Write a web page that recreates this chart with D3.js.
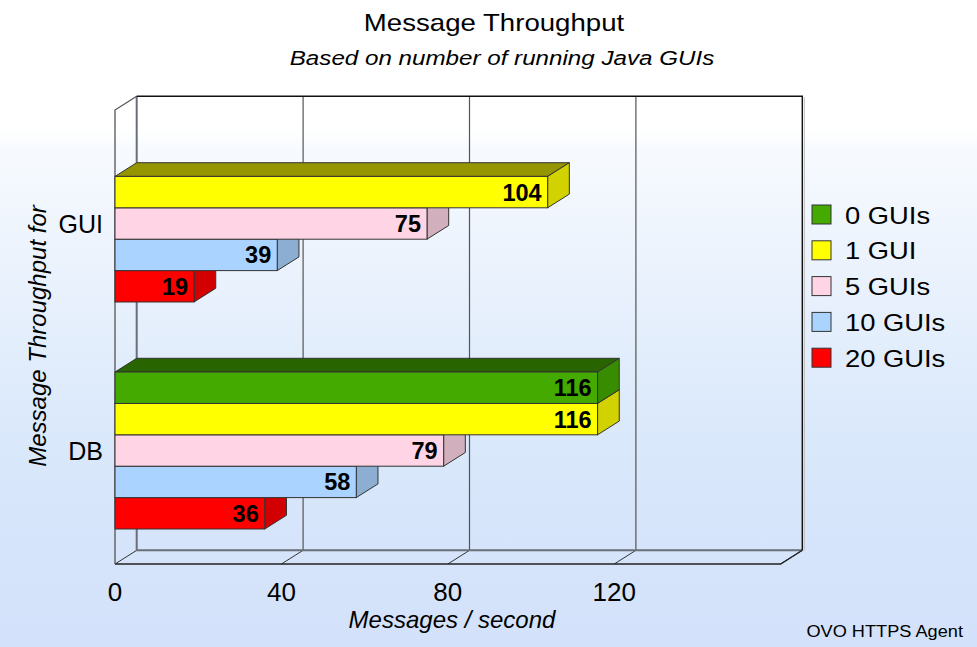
<!DOCTYPE html>
<html>
<head>
<meta charset="utf-8">
<script src="https://cdn.jsdelivr.net/npm/d3@7"></script>
<style>
  html, body { margin: 0; padding: 0; background: #fff; }
  svg { display: block; font-family: "Liberation Sans", Arial, sans-serif; }
</style>
</head>
<body>
<svg id="chart" width="977" height="647"></svg>
<script>
// ---- data ----
const categories = ["GUI", "DB"];
const seriesNames = ["0 GUIs", "1 GUI", "5 GUIs", "10 GUIs", "20 GUIs"];
const guiValues = [0, 104, 75, 39, 19];
const dbValues = [116, 116, 79, 58, 36];
const xTicks = [0, 40, 80, 120];
const xMax = 160;

const seriesColors = ["#44AA00", "#FFFF00", "#FFD5E5", "#AAD4FF", "#FF0000"];

const title = "Message Throughput";
const subtitle = "Based on number of running Java GUIs";
const xTitle = "Messages / second";
const yTitle = "Message Throughput for";
const footer = "OVO HTTPS Agent";

const valuesByCategory = { GUI: guiValues, DB: dbValues };

// ---- layout ----
const W = 977, H = 647;
const front = { left: 115, right: 780.6, top: 110, bottom: 564 };
const depth = { dx: 21.7, dy: -13.7 };

const svg = d3.select("#chart");

// page background: soft white-to-blue wash
const defs = svg.append("defs");
const bg = defs.append("linearGradient")
  .attr("id", "bgGrad").attr("x1", 0).attr("y1", 0).attr("x2", 0).attr("y2", 1);
[[0, "#ffffff"], [0.2, "#ffffff"], [0.23, "#F7FBFF"], [0.37, "#EEF4FD"],
 [0.5, "#E5EFFC"], [0.65, "#DBE9FB"], [0.8, "#D6E5FA"], [1, "#D3E2FA"]]
  .forEach(([o, c]) => bg.append("stop").attr("offset", o).attr("stop-color", c));
svg.append("rect").attr("width", W).attr("height", H).attr("fill", "url(#bgGrad)");

// ---- scales ----
const x = d3.scaleLinear().domain([0, xMax]).range([front.left, front.right]);
const y0 = d3.scaleBand().domain(categories).range([front.top, front.bottom]);
const y1 = d3.scaleBand().domain(seriesNames).range([0, y0.bandwidth()]).paddingOuter(1.115);
const color = d3.scaleOrdinal().domain(seriesNames).range(seriesColors);

const line = d3.line();

// ---- 3D frame: back wall, left wall, floor ----
const frame = svg.append("g").attr("fill", "none");
const bx = v => x(v) + depth.dx;
const backTop = front.top + depth.dy, backBottom = front.bottom + depth.dy;

// grid lines on the back wall
frame.selectAll("line.grid")
  .data(xTicks.filter(t => t > 0))
  .join("line")
  .attr("class", "grid")
  .attr("x1", d => bx(d)).attr("x2", d => bx(d))
  .attr("y1", backTop).attr("y2", backBottom)
  .attr("stroke", "#555").attr("stroke-width", 1.2);

// floor diagonals at each tick
frame.selectAll("path.floorTick")
  .data(xTicks.concat([xMax]))
  .join("path")
  .attr("class", "floorTick")
  .attr("d", d => line([[x(d), front.bottom], [bx(d), backBottom]]))
  .attr("stroke", "#333").attr("stroke-width", 1);

// back floor edge and back-left edge (grey, heavier)
frame.append("path")
  .attr("d", line([[bx(0), backTop], [bx(0), backBottom], [bx(xMax), backBottom]]))
  .attr("stroke", "#6a6f7a").attr("stroke-width", 2);

// front floor edge
frame.append("path")
  .attr("d", line([[x(0), front.bottom], [x(xMax), front.bottom], [bx(xMax), backBottom]]))
  .attr("stroke", "#222").attr("stroke-width", 1.3);

// left wall front edge and top
frame.append("path")
  .attr("d", line([[x(0), front.bottom], [x(0), front.top], [bx(0), backTop]]))
  .attr("stroke", "#555").attr("stroke-width", 1.3);

// back wall top and right edges
frame.append("path")
  .attr("d", line([[bx(0), backTop], [bx(xMax), backTop], [bx(xMax), backBottom]]))
  .attr("stroke", "#111").attr("stroke-width", 1.4);
frame.append("path")
  .attr("d", line([[bx(xMax) + 2, backTop + 1], [bx(xMax) + 2, backBottom]]))
  .attr("stroke", "#bbb").attr("stroke-width", 1);

// ---- bars ----
const barData = [];
categories.forEach(cat => {
  // drawn bottom-up so upper bars sit over the top faces of the ones below
  seriesNames.slice().reverse().forEach(s => {
    const i = seriesNames.indexOf(s);
    barData.push({ cat, series: s, value: valuesByCategory[cat][i] });
  });
});

const bars = svg.append("g").selectAll("g.bar")
  .data(barData.filter(d => d.value > 0))
  .join("g")
  .attr("class", "bar");

const edge = "#333";
bars.each(function (d) {
  const g = d3.select(this);
  const top = y0(d.cat) + y1(d.series);
  const h = y1.bandwidth();
  const x0 = x(0), xv = x(d.value);
  const base = d3.color(color(d.series));
  const sideCol = base.darker(0.55);
  const topCol = base.darker(1.5);

  g.append("path")
    .attr("d", line([[x0, top], [x0 + depth.dx, top + depth.dy],
                     [xv + depth.dx, top + depth.dy], [xv, top]]) + "Z")
    .attr("fill", topCol).attr("stroke", edge).attr("stroke-width", 1).attr("stroke-linejoin", "round");
  g.append("path")
    .attr("d", line([[xv, top], [xv + depth.dx, top + depth.dy],
                     [xv + depth.dx, top + h + depth.dy], [xv, top + h]]) + "Z")
    .attr("fill", sideCol).attr("stroke", edge).attr("stroke-width", 1).attr("stroke-linejoin", "round");
  g.append("rect")
    .attr("x", x0).attr("y", top)
    .attr("width", xv - x0).attr("height", h)
    .attr("fill", base).attr("stroke", edge).attr("stroke-width", 1);
  g.append("text")
    .attr("x", xv - 6).attr("y", top + h / 2 + 8.5)
    .attr("text-anchor", "end")
    .attr("font-size", 23.5).attr("font-weight", "bold").attr("fill", "#000")
    .text(d.value);
});

// ---- text helper (horizontal stretch for the wide chart lettering) ----
function label(text, px, py, opts = {}) {
  const sx = opts.sx || 1;
  const t = svg.append("text")
    .attr("transform", `translate(${px},${py})${opts.rotate ? ` rotate(${opts.rotate})` : ""} scale(${sx},1)`)
    .attr("text-anchor", opts.anchor || "start")
    .attr("font-size", opts.size || 16)
    .attr("fill", "#000")
    .text(text);
  if (opts.italic) t.attr("font-style", "italic");
  if (opts.bold) t.attr("font-weight", "bold");
  return t;
}

// titles
label(title, 494, 31, { size: 24, anchor: "middle", sx: 1.15 });
label(subtitle, 502, 65, { size: 19.5, anchor: "middle", italic: true, sx: 1.24 });

// category axis
categories.forEach(c => {
  label(c, 103, y0(c) + y0.bandwidth() / 2 + 9, { size: 25, anchor: "end" });
});
label(yTitle, 46, 336, { size: 24, anchor: "middle", italic: true, rotate: -90, sx: 1.0 });

// value axis
xTicks.forEach(t => {
  label(String(t), x(t), 601, { size: 26, anchor: "middle" });
});
label(xTitle, 452, 628, { size: 24, anchor: "middle", italic: true });

// legend
const legend = svg.append("g");
seriesNames.forEach((s, i) => {
  const ly = 205 + i * 35.8;
  legend.append("rect")
    .attr("x", 812).attr("y", ly).attr("width", 19).attr("height", 19)
    .attr("fill", color(s)).attr("stroke", "#333").attr("stroke-width", 1);
  label(s, 845, ly + 18.5, { size: 24, sx: 1.14 });
});

// footer
label(footer, 963, 637, { size: 17, anchor: "end", sx: 1.07 });
</script>
</body>
</html>
